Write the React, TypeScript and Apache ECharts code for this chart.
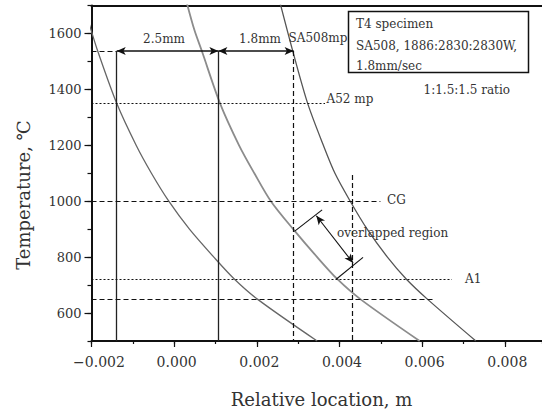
import React, { useEffect, useRef } from "react";
import * as echarts from "echarts";

// Temperature profiles: [relative location (m), temperature (°C)]
const curvePass1: [number, number][] = [
  [-0.0022, 1707], [-0.00201, 1612], [-0.00185, 1537], [-0.00139, 1350], [-0.00092, 1200],
  [-0.00055, 1100], [-0.00013, 1000], [0.00037, 900], [0.00096, 800], [0.00146, 721],
  [0.00203, 648], [0.00346, 500],
];
const curvePass2: [number, number][] = [
  [0.00031, 1707], [0.00049, 1612], [0.00067, 1537], [0.00111, 1350], [0.00157, 1200],
  [0.00194, 1100], [0.00234, 1000], [0.00288, 900], [0.00346, 800], [0.00395, 721],
  [0.00452, 648], [0.00594, 500],
];
const curvePass3: [number, number][] = [
  [0.00256, 1711], [0.00287, 1537], [0.00323, 1350], [0.00361, 1200], [0.00389, 1100],
  [0.00426, 1000], [0.00467, 900], [0.00516, 800], [0.00562, 721], [0.00614, 648],
  [0.0073, 500],
];

// Reference temperature levels
const levelSA508mp = 1537;
const levelA52mp = 1350;
const levelCG = 1000;
const levelA1 = 721;
const levelLow = 648;

// Reference positions (m)
const posStart = -0.002;
const posLine1 = -0.00139;
const posLine2 = 0.00107;
const posLine3 = 0.00289;
const posLine4 = 0.0043;
const endA52 = 0.00365;
const endCG = 0.00499;
const endA1 = 0.00672;
const endLow = 0.00632;
const topLine4 = 1094;

// Overlapped region bracket
const overlapTick1: [number, number][] = [[0.00291, 892], [0.00358, 969]];
const overlapTick2: [number, number][] = [[0.00392, 721], [0.00457, 799]];
const overlapArrow: [number, number][] = [[0.00344, 948], [0.00433, 779]];

const xMin = -0.002;
const xMax = 0.0089;
const yMin = 500;
const yMax = 1700;

const FONT = '"DejaVu Serif", "Liberation Serif", serif';
const TXT = "#333";

function seg(a: [number, number], b: [number, number], style: any, arrows = false) {
  const sym = arrows ? "arrow" : "none";
  return [
    { coord: a, symbol: sym, lineStyle: style },
    { coord: b, symbol: sym },
  ];
}

export default function App() {
  const ref = useRef<HTMLDivElement>(null);
  useEffect(() => {
    const chart = echarts.init(ref.current!, null, { renderer: "svg" });
    const solid = { color: "#222", width: 1.3, type: "solid" };
    const dashed = { color: "#111", width: 1.2, type: [5, 3] };
    const dotted = { color: "#111", width: 1.2, type: [2, 2] };
    const arrowStyle = { color: "#111", width: 1.5, type: "solid" };
    const thin = { color: "#111", width: 1.1, type: "solid" };

    const marks = [
      seg([posStart, levelSA508mp], [posLine1, levelSA508mp], dashed),
      seg([posLine1, levelSA508mp], [posLine2, levelSA508mp], arrowStyle, true),
      seg([posLine2, levelSA508mp], [posLine3, levelSA508mp], arrowStyle, true),
      seg([posLine1, levelSA508mp], [posLine1, yMin], solid),
      seg([posLine2, levelSA508mp], [posLine2, yMin], solid),
      seg([posLine3, levelSA508mp], [posLine3, yMin], dashed),
      seg([posLine4, topLine4], [posLine4, yMin], dashed),
      seg([posStart, levelA52mp], [endA52, levelA52mp], dotted),
      seg([posStart, levelCG], [endCG, levelCG], dashed),
      seg([posStart, levelA1], [endA1, levelA1], dotted),
      seg([posStart, levelLow], [endLow, levelLow], dashed),
      seg(overlapTick1[0], overlapTick1[1], thin),
      seg(overlapTick2[0], overlapTick2[1], thin),
      seg(overlapArrow[0], overlapArrow[1], thin, true),
    ];

    const txt = (text: string, x: number, y: number, align = "left", size = 12) => ({
      type: "text",
      x,
      y,
      style: {
        text,
        fill: TXT,
        font: `${size}px ${FONT}`,
        textAlign: align,
        textVerticalAlign: "middle",
      },
      z: 10,
    });

    const xFmt = (v: number) => {
      if (Math.abs(v - xMin) < 1e-9) return "{neg|\u22120.002}";
      if (Math.abs(v) < 1e-9) return "0.000";
      return v.toFixed(3).replace("-", "\u2212");
    };

    const axisLineStyle = { color: "#111", width: 2 };
    const tickStyle = { color: "#111", width: 1.2 };

    const option: any = {
      animation: false,
      backgroundColor: "#fff",
      grid: { left: 91.5, right: 0, top: 5.5, bottom: 73, containLabel: false },
      xAxis: [
        {
          type: "value", min: xMin, max: xMax, interval: 0.001, position: "bottom",
          axisLine: { show: true, onZero: false, lineStyle: axisLineStyle },
          axisTick: { show: true, length: 3, lineStyle: tickStyle },
          axisLabel: { show: false }, splitLine: { show: false },
        },
        {
          type: "value", min: xMin, max: xMax, interval: 0.002, position: "bottom",
          axisLine: { show: false, onZero: false },
          axisTick: { show: true, length: 6, lineStyle: tickStyle },
          axisLabel: {
            show: true, margin: 14, fontSize: 14, fontFamily: FONT, color: TXT,
            padding: [0, 0, 0, 5], showMaxLabel: false, formatter: xFmt,
            rich: { neg: { padding: [0, 0, 0, 10], fontSize: 14, fontFamily: FONT, color: TXT } },
          },
          splitLine: { show: false },
        },
        {
          type: "value", min: xMin, max: xMax, position: "top",
          axisLine: { show: true, onZero: false, lineStyle: axisLineStyle },
          axisTick: { show: false }, axisLabel: { show: false }, splitLine: { show: false },
        },
      ],
      yAxis: [
        {
          type: "value", min: yMin, max: yMax, interval: 100, position: "left",
          axisLine: { show: true, onZero: false, lineStyle: axisLineStyle },
          axisTick: { show: true, length: 4, lineStyle: tickStyle },
          axisLabel: { show: false }, splitLine: { show: false },
        },
        {
          type: "value", min: yMin, max: yMax, splitNumber: 6, position: "left",
          axisLine: { show: false, onZero: false },
          axisTick: { show: true, length: 7, lineStyle: tickStyle },
          axisLabel: {
            show: true, margin: 10, fontSize: 13, fontFamily: FONT, color: TXT,
            showMinLabel: false, showMaxLabel: false,
            formatter: (v: number) => (v % 200 === 0 ? String(v) : ""),
          },
          splitLine: { show: false },
        },
      ],
      series: [
        {
          type: "line", data: curvePass1, xAxisIndex: 0, yAxisIndex: 0, smooth: 0.3,
          symbol: "none", lineStyle: { color: "#666", width: 1.3 }, silent: true, z: 3,
          markLine: {
            silent: true, symbolSize: [6, 9], label: { show: false },
            emphasis: { disabled: true }, data: marks,
          },
        },
        {
          type: "line", data: curvePass2, xAxisIndex: 0, yAxisIndex: 0, smooth: 0.3,
          symbol: "none", lineStyle: { color: "#8c8c8c", width: 1.8 }, silent: true, z: 3,
        },
        {
          type: "line", data: curvePass3, xAxisIndex: 0, yAxisIndex: 0, smooth: 0.3,
          symbol: "none", lineStyle: { color: "#555", width: 1.3 }, silent: true, z: 3,
        },
      ],
      graphic: [
        txt("2.5mm", 164, 39, "center"),
        txt("1.8mm", 260, 39, "center"),
        txt("SA508mp", 288.5, 38),
        txt("A52 mp", 326.5, 99),
        txt("CG", 387, 200),
        txt("overlapped region", 337, 232.5),
        txt("A1", 465, 279),
        txt("1:1.5:1.5 ratio", 423.5, 89.5),
        {
          type: "rect", shape: { x: 348.5, y: 11.5, width: 180, height: 61 },
          style: { fill: "#fff", stroke: "#111", lineWidth: 1.5 }, z: 9,
        },
        txt("T4 specimen", 356, 23.5),
        txt("SA508, 1886:2830:2830W,", 356, 46),
        txt("1.8mm/sec", 356, 65.5),
        txt("Relative location, m", 321.5, 399, "center", 18),
        {
          type: "text", x: 23, y: 195, rotation: Math.PI / 2,
          style: {
            text: "Temperature, \u2103", fill: TXT, font: `18px ${FONT}`,
            textAlign: "center", textVerticalAlign: "middle",
          },
          z: 10,
        },
      ],
    };
    chart.setOption(option);
    return () => chart.dispose();
  }, []);
  return (
    <div
      ref={ref}
      style={{ position: "absolute", left: 0, top: 0, width: 542, height: 414 }}
    />
  );
}
